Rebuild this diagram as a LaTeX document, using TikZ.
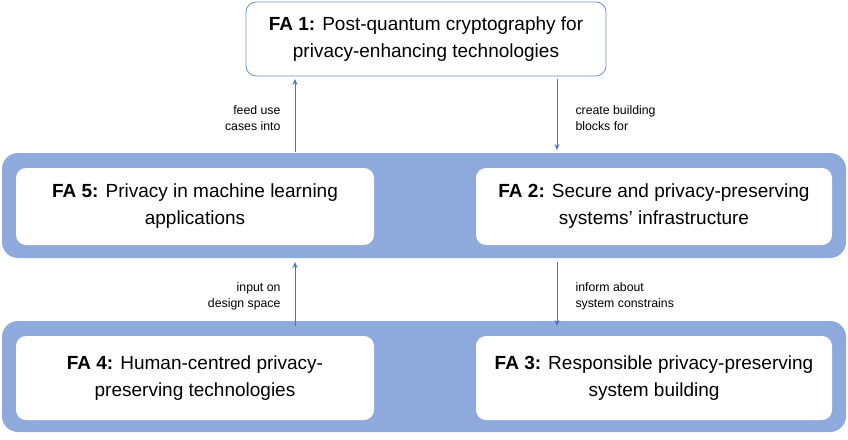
\documentclass[tikz,border=0pt]{standalone}
\usepackage{fontspec}
\setmainfont{Liberation Sans}
\usetikzlibrary{arrows.meta}
\definecolor{band}{HTML}{8EAADC}
\definecolor{arr}{HTML}{4A72C0}
\begin{document}
\begin{tikzpicture}[x=1pt,y=-1pt,
 band/.style={fill=band,rounded corners=16pt,draw=none},
 box/.style={fill=white,rounded corners=10pt,draw=none},
 top/.style={fill=white,draw=arr!80,line width=0.8pt,rounded corners=10pt},
 txt/.style={align=center,font=\fontsize{19}{27}\selectfont},
 lbl/.style={font=\fontsize{12.3}{16}\selectfont,align=left},
 ar/.style={draw=arr,line width=0.9pt,-{Stealth[length=6pt,width=5pt]}}]
\useasboundingbox (0,0) rectangle (848,439);
\path[top] (246,2) rectangle (606,76);
\node[txt] (fa1) at (426,39) {\textbf{FA 1:} Post-quantum cryptography for\\privacy-enhancing technologies};
\path[band] (2,153) rectangle (846,258);
\path[box] (16,168) rectangle (374,245);
\path[box] (476,168) rectangle (832,245);
\node[txt] (fa5) at (195,206) {\textbf{FA 5:} Privacy in machine learning\\applications};
\node[txt] (fa2) at (654,206) {\textbf{FA 2:} Secure and privacy-preserving\\systems' infrastructure};
\path[band] (2,321) rectangle (846,432);
\path[box] (16,336) rectangle (374,420);
\path[box] (476,336) rectangle (832,420);
\node[txt] (fa4) at (195,378) {\textbf{FA 4:} Human-centred privacy-\\preserving technologies};
\node[txt] (fa3) at (654,378) {\textbf{FA 3:} Responsible privacy-preserving\\system building};
\coordinate (a1s) at (295,152); \coordinate (a1e) at (295,79);
\coordinate (a2s) at (557,79); \coordinate (a2e) at (557,150);
\coordinate (a3s) at (295,326); \coordinate (a3e) at (295,262);
\coordinate (a4s) at (557,262); \coordinate (a4e) at (557,326);
\draw[ar] (a1s) -- (a1e);
\draw[ar] (a2s) -- (a2e);
\draw[ar] (a3s) -- (a3e);
\draw[ar] (a4s) -- (a4e);
\node[lbl,anchor=east,align=right] (l1) at (284,118) {feed use\\cases into};
\node[lbl,anchor=west] (l2) at (572,118) {create building\\blocks for};
\node[lbl,anchor=east,align=right] (l3) at (284,296) {input on\\design space};
\node[lbl,anchor=west] (l4) at (572,296) {inform about\\system constrains};
\end{tikzpicture}
\end{document}
